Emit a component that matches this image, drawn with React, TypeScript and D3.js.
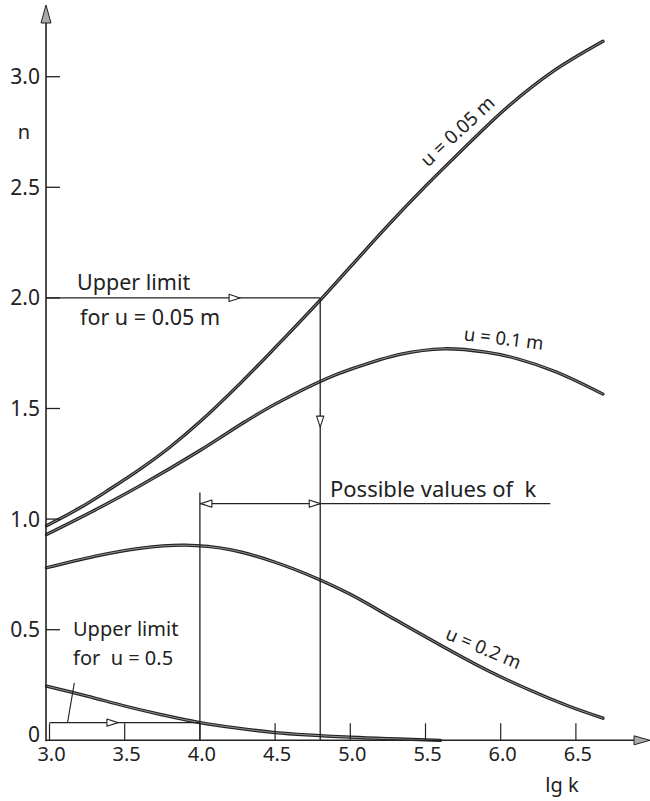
import React from 'react';
import * as d3 from 'd3';

// lg k vs n, curves for several u values
const curveU005: [number, number][] = [
  [2.98, 0.97], [3.2, 1.05], [3.4, 1.135], [3.6, 1.225], [3.8, 1.325], [4.0, 1.44],
  [4.27, 1.615], [4.5, 1.775], [4.8, 1.99], [5.0, 2.14], [5.24, 2.32], [5.5, 2.505],
  [5.7, 2.64], [6.04, 2.86], [6.35, 3.025], [6.68, 3.16],
];
const curveU01: [number, number][] = [
  [2.98, 0.93], [3.3, 1.04], [3.6, 1.15], [4.0, 1.31], [4.3, 1.44], [4.5, 1.52],
  [4.84, 1.635], [5.0, 1.677], [5.33, 1.745], [5.62, 1.77], [5.9, 1.755], [6.11, 1.725],
  [6.37, 1.665], [6.68, 1.565],
];
const curveU02: [number, number][] = [
  [2.98, 0.78], [3.3, 0.832], [3.6, 0.868], [3.9, 0.882], [4.2, 0.862], [4.5, 0.805],
  [4.8, 0.725], [5.0, 0.66], [5.3, 0.545], [5.6, 0.43], [5.9, 0.32], [6.2, 0.225],
  [6.45, 0.155], [6.68, 0.1],
];
const curveU05: [number, number][] = [
  [2.98, 0.245], [3.25, 0.2], [3.5, 0.155], [3.75, 0.115], [4.0, 0.08], [4.25, 0.055],
  [4.5, 0.035], [5.0, 0.014], [5.6, 0.0],
];

const xTicks = [3.0, 3.5, 4.0, 4.5, 5.0, 5.5, 6.0, 6.5];
const yTicks = [0, 0.5, 1.0, 1.5, 2.0, 2.5, 3.0];
const xTickLabels = ['3.0', '3.5', '4.0', '4.5', '5.0', '5.5', '6.0', '6.5'];
const yTickLabels = ['0', '0.5', '1.0', '1.5', '2.0', '2.5', '3.0'];

// annotation values
const upperLimit005 = { lgk: 4.8, n: 2.0 };
const possibleK = { from: 4.0, to: 4.8, n: 1.07, lineEnd: 6.33, top: 1.12 };
const upperLimit05 = { from: 3.0, to: 4.0, n: 0.08 };

const W = 650;
const H = 801;
const INK = '#222';
const FONT = '"Noto Sans", "DejaVu Sans", sans-serif';

export default function App() {
  const x = d3.scaleLinear().domain([3, 6.5]).range([49.5, 575.9]);
  const y = d3.scaleLinear().domain([0, 3]).range([740.3, 76.7]);
  const axisX = x(3) - 3.5;
  const axisY = y(0);

  const line = d3
    .line<[number, number]>()
    .x((d) => x(d[0]))
    .y((d) => y(d[1]))
    .curve(d3.curveCatmullRom.alpha(0.5));

  const arrow = (tx: number, ty: number, dir: 'r' | 'l' | 'd', len = 11, hw = 3.6) => {
    let pts: [number, number][];
    if (dir === 'r') pts = [[tx, ty], [tx - len, ty - hw], [tx - len, ty + hw]];
    else if (dir === 'l') pts = [[tx, ty], [tx + len, ty - hw], [tx + len, ty + hw]];
    else pts = [[tx, ty], [tx - hw, ty - len], [tx + hw, ty - len]];
    return (
      <polygon
        points={pts.map((p) => p.join(',')).join(' ')}
        fill="#fff"
        stroke={INK}
        strokeWidth={1.1}
        strokeLinejoin="round"
      />
    );
  };

  const curves = [curveU005, curveU01, curveU02, curveU05];

  return (
    <svg
      width={W}
      height={H}
      style={{ position: 'absolute', left: 0, top: 0, background: '#fff' }}
      fontFamily={FONT}
    >
      <rect width={W} height={H} fill="#fff" />
      {/* curves */}
      {curves.map((c, i) => (
        <g key={i}>
          <path d={line(c) || ''} fill="none" stroke={INK} strokeWidth={3.3} strokeLinecap="round" />
          <path d={line(c) || ''} fill="none" stroke="#b0b0b0" strokeWidth={0.8} strokeLinecap="round" />
        </g>
      ))}

      {/* axes */}
      <line x1={axisX} y1={axisY + 1} x2={axisX} y2={12} stroke={INK} strokeWidth={1.6} />
      <polygon
        points={`${axisX},5 ${axisX - 5},23 ${axisX + 5},23`}
        fill="#aaa"
        stroke={INK}
        strokeWidth={1}
      />
      <line x1={axisX} y1={axisY} x2={640} y2={axisY} stroke={INK} strokeWidth={1.6} />
      <polygon
        points={`650,${axisY} 634,${axisY - 4.5} 634,${axisY + 4.5}`}
        fill="#aaa"
        stroke={INK}
        strokeWidth={1}
      />

      {/* y ticks */}
      {yTicks.map((t, i) => (
        <g key={'yt' + i}>
          {t > 0 && (
            <line x1={axisX} x2={axisX + 14} y1={y(t)} y2={y(t)} stroke={INK} strokeWidth={1.3} />
          )}
          <text
            x={axisX - 6}
            y={t > 0 ? y(t) + 7.5 : y(t) + 2}
            textAnchor="end"
            fontSize={21}
            fill={INK}
          >
            {yTickLabels[i]}
          </text>
        </g>
      ))}
      {/* x ticks */}
      {xTicks.map((t, i) => (
        <g key={'xt' + i}>
          <line x1={x(t)} x2={x(t)} y1={axisY} y2={axisY - 17} stroke={INK} strokeWidth={1.2} />
          <text x={x(t) + 2} y={761} textAnchor="middle" fontSize={20} fill={INK}>
            {xTickLabels[i]}
          </text>
        </g>
      ))}

      <text x={24} y={139} textAnchor="middle" fontSize={20} fill={INK}>n</text>
      <text x={562} y={792} textAnchor="middle" fontSize={20} fill={INK}>lg k</text>

      {/* upper limit for u = 0.05 m */}
      <line
        x1={axisX}
        x2={x(upperLimit005.lgk)}
        y1={y(upperLimit005.n)}
        y2={y(upperLimit005.n)}
        stroke={INK}
        strokeWidth={1.3}
      />
      {arrow(x(4.267), y(upperLimit005.n), 'r')}
      <line
        x1={x(upperLimit005.lgk)}
        x2={x(upperLimit005.lgk)}
        y1={y(upperLimit005.n)}
        y2={axisY}
        stroke={INK}
        strokeWidth={1.3}
      />
      {arrow(x(upperLimit005.lgk), y(1.416), 'd')}
      <text x={77} y={290} fontSize={21.5} fill={INK}>Upper limit</text>
      <text x={80} y={325} fontSize={21.5} fill={INK}>for u = 0.05 m</text>

      {/* possible values of k */}
      <line
        x1={x(possibleK.from)}
        x2={x(possibleK.from)}
        y1={y(possibleK.top)}
        y2={axisY}
        stroke={INK}
        strokeWidth={1.3}
      />
      <line
        x1={x(possibleK.from)}
        x2={x(possibleK.lineEnd)}
        y1={y(possibleK.n)}
        y2={y(possibleK.n)}
        stroke={INK}
        strokeWidth={1.3}
      />
      {arrow(x(possibleK.from) + 1, y(possibleK.n), 'l')}
      {arrow(x(possibleK.to), y(possibleK.n), 'r')}
      <text x={330} y={497} fontSize={22} fill={INK} style={{ whiteSpace: 'pre' }}>
        {'Possible values of  k'}
      </text>

      {/* upper limit for u = 0.5 */}
      <line
        x1={x(upperLimit05.from)}
        x2={x(upperLimit05.to)}
        y1={y(upperLimit05.n)}
        y2={y(upperLimit05.n)}
        stroke={INK}
        strokeWidth={1.3}
      />
      {arrow(x(3.455), y(upperLimit05.n), 'r')}
      <line x1={x(3.165)} y1={y(0.26)} x2={x(3.12)} y2={y(upperLimit05.n)} stroke={INK} strokeWidth={1.1} />
      <text x={73} y={636} fontSize={20} fill={INK}>Upper limit</text>
      <text x={73} y={665} fontSize={20} fill={INK} style={{ whiteSpace: 'pre' }}>
        {'for  u = 0.5'}
      </text>

      {/* curve labels */}
      <text transform="translate(462,136) rotate(-43)" textAnchor="middle" fontSize={19} fill={INK}>
        u = 0.05 m
      </text>
      <text transform="translate(503,345) rotate(7)" textAnchor="middle" fontSize={18.5} fill={INK}>
        u = 0.1 m
      </text>
      <text transform="translate(481,654) rotate(23)" textAnchor="middle" fontSize={18.5} fill={INK}>
        u = 0.2 m
      </text>
    </svg>
  );
}
